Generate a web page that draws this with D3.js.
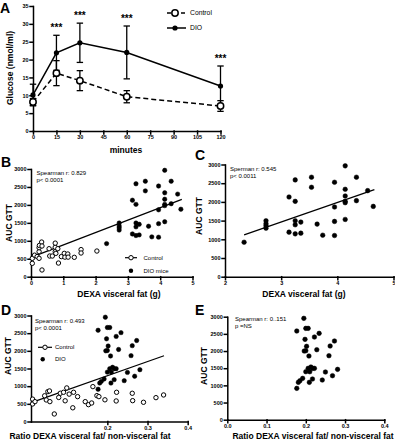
<!DOCTYPE html>
<html><head><meta charset="utf-8">
<script src="https://cdn.jsdelivr.net/npm/d3@7"></script>
<style>body{margin:0;background:#fff} svg text{font-family:"Liberation Sans",Arial,sans-serif}</style>
</head><body><svg id="c" width="395" height="440"></svg>
<script>
// ---------- Panel A data ----------
const timeMinutes = [0, 15, 30, 60, 120];
const controlGlucose = [8.1, 16.2, 14.1, 9.6, 7.0];
const controlGlucoseErr = [1.0, 3.5, 2.8, 1.7, 1.5];
const dioGlucose = [10.1, 21.9, 24.7, 22.0, 12.6];
const dioGlucoseErr = [3.0, 4.9, 5.5, 7.4, 5.6];
const starTimes = [15, 30, 60, 120];
const timeTicks = [0, 15, 30, 45, 60, 75, 90, 105, 120];
const glucoseTicks = [0, 5, 10, 15, 20, 25, 30, 35];

// ---------- Panel B / C data ----------
const controlVisceralFat = [0.04,0.04,0.11,0.19,0.25,0.25,0.25,0.26,0.33,0.34,0.34,0.56,0.58,0.66,0.75,0.75,0.75,0.77,0.83,0.85,0.94,1.03,1.05,1.14,1.15,1.34,1.55,1.55,2.04];
const controlAucB = [372,511,600,560,512,697,808,870,965,855,187,780,576,576,697,820,935,650,780,380,560,650,545,632,545,540,755,660,715];
const dioVisceralFat = [2.34,2.73,2.73,2.73,2.73,3.14,3.14,3.25,3.25,3.25,3.25,3.25,3.35,3.35,3.54,3.54,3.64,3.74,3.95,3.95,3.95,3.95,4.14,4.14,4.14,4.14,4.14,4.14,4.34,4.34,4.54,4.64];
const dioAuc = [922,1495,1415,1361,1298,2131,1191,2588,2015,1495,1388,1146,1460,1164,2660,2391,1406,1110,2525,1863,1478,1101,2964,2337,2158,2015,1979,1531,2660,2033,2301,1880];
const fitBX = [0, 4.67], fitBY = [538, 2154];
const fitCX = [2.34, 4.66], fitCY = [1119, 2328];
const fatTicksB = [0, 1, 2, 3, 4, 5];
const fatTicksC = [2, 3, 4, 5];
const aucTicks = [0, 500, 1000, 1500, 2000, 2500, 3000];

// ---------- Panel D / E data ----------
const controlRatio = [0.014,0.014,0.020,0.044,0.048,0.052,0.056,0.057,0.068,0.079,0.083,0.091,0.095,0.099,0.105,0.114,0.116,0.126,0.145,0.153,0.161,0.164,0.174,0.179,0.194,0.223,0.222,0.262,0.263,0.290,0.321,0.340];
const controlAucD = [633,496,562,728,610,846,865,562,213,680,800,827,586,950,775,388,827,704,562,477,524,987,732,704,614,827,581,799,590,544,675,751];
const dioRatio = [0.177,0.181,0.185,0.192,0.177,0.195,0.200,0.206,0.198,0.202,0.196,0.200,0.208,0.200,0.206,0.210,0.213,0.217,0.222,0.209,0.217,0.222,0.228,0.234,0.242,0.250,0.259,0.262,0.268,0.273,0.281];
const dioAucE = [913,1088,1136,1204,2583,2952,2660,2660,2340,2136,2000,2010,1855,1398,1495,1398,1534,1495,1495,1088,1185,2408,2039,2515,1156,1389,1864,2146,1282,2292,1466];
const fitDX = [0.014, 0.341], fitDY = [550, 1860];
const ratioTicksD = [0.2, 0.3, 0.4];
const ratioTicksE = [0, 0.1, 0.2, 0.3, 0.4];

const svg = d3.select("#c");

function axes(x, y, xTicks, yTicks, xFmt, yFmt) {
  const gx = svg.append("g").attr("transform", `translate(0,${y.range()[0]})`)
    .call(d3.axisBottom(x).tickValues(xTicks).tickFormat(xFmt).tickSize(3).tickSizeOuter(0).tickPadding(1.5));
  const gy = svg.append("g").attr("transform", `translate(${x.range()[0]},0)`)
    .call(d3.axisLeft(y).tickValues(yTicks).tickFormat(yFmt).tickSize(3).tickSizeOuter(0).tickPadding(1.5));
  [gx, gy].forEach(g => {
    g.selectAll("path,line").attr("stroke", "#000").attr("stroke-width", 1.5).attr("stroke-linecap", "square");
    g.selectAll("text").attr("font-size", 5.5).attr("font-weight", "bold").attr("fill", "#000")
      .style("font-family", '"Liberation Sans",Arial,sans-serif');
  });
}
function txt(x, y, s, size, opts = {}) {
  const t = svg.append("text").attr("x", x).attr("y", y).text(s).attr("font-size", size)
    .attr("font-weight", opts.bold ? "bold" : "normal").attr("text-anchor", opts.anchor || "start").attr("fill", "#000");
  if (opts.rotate) t.attr("transform", `rotate(-90,${x},${y})`);
  return t;
}
function dots(x, y, xs, ys, open, r = 2.2) {
  svg.append("g").selectAll("circle").data(xs).join("circle")
    .attr("cx", (d) => x(d)).attr("cy", (d, i) => y(ys[i])).attr("r", r)
    .attr("fill", open ? "#fff" : "#000").attr("stroke", "#000").attr("stroke-width", open ? 1 : 0.5);
}
function fit(x, y, xs, ys) {
  svg.append("path").attr("d", d3.line().x(d => x(d)).y((d, i) => y(ys[i]))(xs))
    .attr("stroke", "#000").attr("stroke-width", 1.2).attr("fill", "none");
}

// ---------- Panel A ----------
{
  const x = d3.scaleLinear().domain([0, 120]).range([33, 220.5]);
  const y = d3.scaleLinear().domain([0, 35]).range([131, 6]);
  axes(x, y, timeTicks, glucoseTicks, d3.format("d"), d3.format("d"));
  const line = ys => d3.line().x(d => x(d)).y((d, i) => y(ys[i]))(timeMinutes);
  svg.append("path").attr("d", line(controlGlucose)).attr("stroke", "#000").attr("stroke-width", 1.5)
    .attr("stroke-dasharray", "5,3").attr("fill", "none");
  svg.append("path").attr("d", line(dioGlucose)).attr("stroke", "#000").attr("stroke-width", 1.5).attr("fill", "none");
  const bars = (m, e) => {
    const g = svg.append("g").attr("stroke", "#000").attr("stroke-width", 1.3);
    timeMinutes.forEach((t, i) => {
      const cx = x(t), y1 = y(m[i] + e[i]), y2 = y(m[i] - e[i]);
      g.append("line").attr("x1", cx).attr("x2", cx).attr("y1", y1).attr("y2", y2);
      g.append("line").attr("x1", cx - 3.2).attr("x2", cx + 3.2).attr("y1", y1).attr("y2", y1);
      g.append("line").attr("x1", cx - 3.2).attr("x2", cx + 3.2).attr("y1", y2).attr("y2", y2);
    });
  };
  bars(dioGlucose, dioGlucoseErr);
  bars(controlGlucose, controlGlucoseErr);
  svg.append("g").selectAll("circle").data(timeMinutes).join("circle")
    .attr("cx", d => x(d)).attr("cy", (d, i) => y(dioGlucose[i])).attr("r", 2.6).attr("fill", "#000");
  svg.append("g").selectAll("circle").data(timeMinutes).join("circle")
    .attr("cx", d => x(d)).attr("cy", (d, i) => y(controlGlucose[i])).attr("r", 3.2)
    .attr("fill", "#fff").attr("stroke", "#000").attr("stroke-width", 1.5);
  starTimes.forEach(t => {
    const i = timeMinutes.indexOf(t);
    txt(x(t), y(dioGlucose[i] + dioGlucoseErr[i]) - 4, "***", 10, { bold: true, anchor: "middle" });
  });
  // legend
  svg.append("line").attr("x1", 167).attr("x2", 186).attr("y1", 13).attr("y2", 13).attr("stroke", "#000")
    .attr("stroke-width", 1.5).attr("stroke-dasharray", "4,3");
  svg.append("circle").attr("cx", 175).attr("cy", 13).attr("r", 3.2).attr("fill", "#fff").attr("stroke", "#000").attr("stroke-width", 1.5);
  txt(190, 15.3, "Control", 6.8);
  svg.append("line").attr("x1", 167).attr("x2", 186).attr("y1", 28).attr("y2", 28).attr("stroke", "#000").attr("stroke-width", 1.5);
  svg.append("circle").attr("cx", 175).attr("cy", 28).attr("r", 2.6).attr("fill", "#000");
  txt(190, 30.3, "DIO", 6.8);
  txt(0, 12.5, "A", 14, { bold: true });
  txt(13, 68, "Glucose (nmol/ml)", 8.5, { bold: true, anchor: "middle", rotate: true });
  txt(126, 152.5, "minutes", 8.5, { bold: true, anchor: "middle" });
}

// ---------- Panel B ----------
{
  const x = d3.scaleLinear().domain([0, 5]).range([31, 192.5]);
  const y = d3.scaleLinear().domain([0, 3000]).range([276.7, 169]);
  axes(x, y, fatTicksB, aucTicks, d3.format("d"), d3.format("d"));
  fit(x, y, fitBX, fitBY);
  dots(x, y, dioVisceralFat, dioAuc, false);
  dots(x, y, controlVisceralFat, controlAucB, true);
  txt(36.5, 175, "Spearman r: 0.829", 6);
  txt(36.5, 181.7, "p<  0.0001", 6);
  svg.append("line").attr("x1", 125).attr("x2", 137).attr("y1", 257.7).attr("y2", 257.7).attr("stroke", "#000").attr("stroke-width", 1.2);
  svg.append("circle").attr("cx", 131).attr("cy", 257.7).attr("r", 2.2).attr("fill", "#fff").attr("stroke", "#000");
  txt(143.5, 259.8, "Control", 6);
  svg.append("circle").attr("cx", 131).attr("cy", 270.7).attr("r", 2.2).attr("fill", "#000");
  txt(143.5, 272.8, "DIO mice", 6);
  txt(1, 167, "B", 14, { bold: true });
  txt(12, 223, "AUC GTT", 8.5, { bold: true, anchor: "middle", rotate: true });
  txt(119, 297, "DEXA visceral fat (g)", 8.5, { bold: true, anchor: "middle" });
}

// ---------- Panel C ----------
{
  const x = d3.scaleLinear().domain([2, 5]).range([225, 393.5]);
  const y = d3.scaleLinear().domain([0, 3000]).range([276.7, 164.5]);
  axes(x, y, fatTicksC, aucTicks, d3.format("d"), d3.format("d"));
  fit(x, y, fitCX, fitCY);
  dots(x, y, dioVisceralFat, dioAuc, false, 2.3);
  txt(230, 171, "Sperman r: 0.545", 6);
  txt(230, 177.8, "p<  0.0011", 6);
  txt(195, 160, "C", 14, { bold: true });
  txt(202, 216, "AUC GTT", 8.5, { bold: true, anchor: "middle", rotate: true });
  txt(304, 297, "DEXA visceral fat (g)", 8.5, { bold: true, anchor: "middle" });
}

// ---------- Panel D ----------
{
  const x = d3.scaleLinear().domain([0.01, 0.4]).range([31, 187.7]);
  const y = d3.scaleLinear().domain([0, 3000]).range([421.5, 315.5]);
  axes(x, y, ratioTicksD, aucTicks, d3.format(".1f"), d3.format("d"));
  fit(x, y, fitDX, fitDY);
  dots(x, y, dioRatio, dioAucE, false);
  dots(x, y, controlRatio, controlAucD, true);
  txt(35, 323, "Spearman r: 0.493", 6);
  txt(35, 329.5, "p<  0.0001", 6);
  svg.append("line").attr("x1", 38).attr("x2", 52).attr("y1", 347.3).attr("y2", 347.3).attr("stroke", "#000").attr("stroke-width", 1.2);
  svg.append("circle").attr("cx", 45).attr("cy", 347.3).attr("r", 2.2).attr("fill", "#fff").attr("stroke", "#000");
  txt(55, 349.4, "Control", 6);
  svg.append("circle").attr("cx", 42.7).attr("cy", 359.2).attr("r", 2.2).attr("fill", "#000");
  txt(55, 361.3, "DIO", 6);
  txt(1, 315, "D", 14, { bold: true });
  txt(11, 356, "AUC GTT", 8.5, { bold: true, anchor: "middle", rotate: true });
  txt(90, 439, "Ratio DEXA visceral fat/ non-visceral fat", 8.5, { bold: true, anchor: "middle" });
}

// ---------- Panel E ----------
{
  const x = d3.scaleLinear().domain([0, 0.4]).range([227.3, 384.3]);
  const y = d3.scaleLinear().domain([0, 3000]).range([419.7, 316.7]);
  axes(x, y, ratioTicksE, aucTicks, d3.format(".1f"), d3.format("d"));
  dots(x, y, dioRatio, dioAucE, false, 2.3);
  txt(235, 321, "Spearman r: 0..151", 6);
  txt(235, 327.7, "p =NS", 6);
  txt(195, 315, "E", 14, { bold: true });
  txt(207, 366, "AUC GTT", 8.5, { bold: true, anchor: "middle", rotate: true });
  txt(313, 439, "Ratio DEXA visceral fat/ non-visceral fat", 8.5, { bold: true, anchor: "middle" });
}
</script></body></html>
